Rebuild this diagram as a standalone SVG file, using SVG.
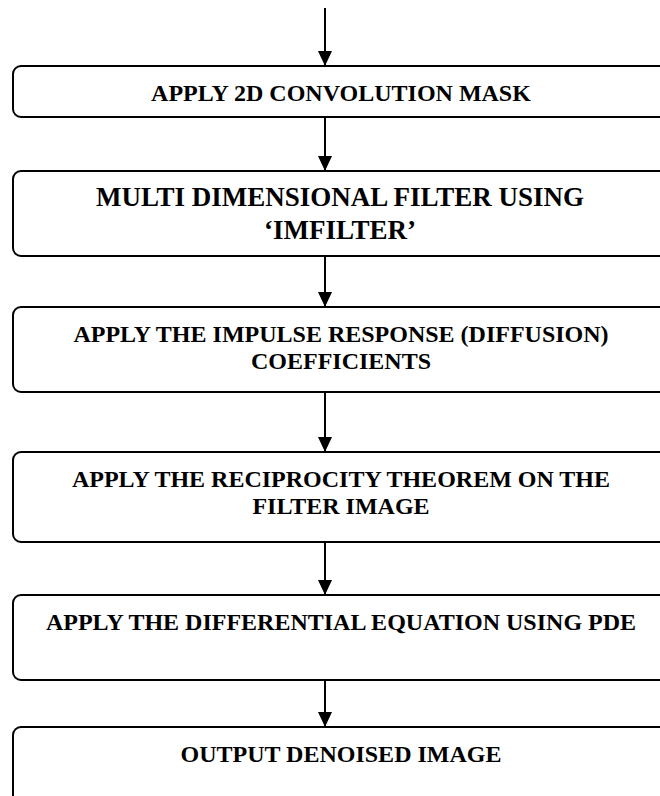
<svg xmlns="http://www.w3.org/2000/svg" width="660" height="796" viewBox="0 0 660 796">
<style>
.box{fill:#fff;stroke:#000;stroke-width:2}
.t{font-family:"Liberation Serif","Times New Roman","DejaVu Serif",serif;font-weight:bold;font-size:24px;fill:#000;text-anchor:middle}
.big{font-size:27px}
.conn{stroke:#000;stroke-width:2;fill:none;marker-end:url(#ah)}
</style>
<defs>
<marker id="ah" markerUnits="userSpaceOnUse" markerWidth="15" markerHeight="14" refX="15" refY="7" orient="auto">
<path d="M0,0 L15,7 L0,14 z" fill="#000"/>
</marker>
</defs>
<rect width="660" height="796" fill="#fff"/>
<g id="connectors">
<line class="conn" x1="325" y1="8" x2="325" y2="66"/>
<line class="conn" x1="325" y1="117" x2="325" y2="171"/>
<line class="conn" x1="325" y1="256" x2="325" y2="307"/>
<line class="conn" x1="325" y1="392" x2="325" y2="452"/>
<line class="conn" x1="325" y1="542" x2="325" y2="595"/>
<line class="conn" x1="325" y1="680" x2="325" y2="727"/>
</g>
<g id="n1">
<rect class="box" x="13" y="66" width="657" height="51" rx="8"/>
<text class="t" x="341" y="101">APPLY 2D CONVOLUTION MASK</text>
</g>
<g id="n2">
<rect class="box" x="13" y="171" width="657" height="85" rx="8"/>
<text class="t big" x="340" y="206">MULTI DIMENSIONAL FILTER USING</text>
<text class="t big" x="340" y="239">‘IMFILTER’</text>
</g>
<g id="n3">
<rect class="box" x="13" y="307" width="657" height="85" rx="8"/>
<text class="t" x="341" y="342">APPLY THE IMPULSE RESPONSE (DIFFUSION)</text>
<text class="t" x="341" y="369">COEFFICIENTS</text>
</g>
<g id="n4">
<rect class="box" x="13" y="452" width="657" height="90" rx="8"/>
<text class="t" x="341" y="487">APPLY THE RECIPROCITY THEOREM ON THE</text>
<text class="t" x="341" y="514">FILTER IMAGE</text>
</g>
<g id="n5">
<rect class="box" x="13" y="595" width="657" height="85" rx="8"/>
<text class="t" x="341" y="630">APPLY THE DIFFERENTIAL EQUATION USING PDE</text>
</g>
<g id="n6">
<rect class="box" x="13" y="727" width="657" height="85" rx="8"/>
<text class="t" x="341" y="762">OUTPUT DENOISED IMAGE</text>
</g>
</svg>
